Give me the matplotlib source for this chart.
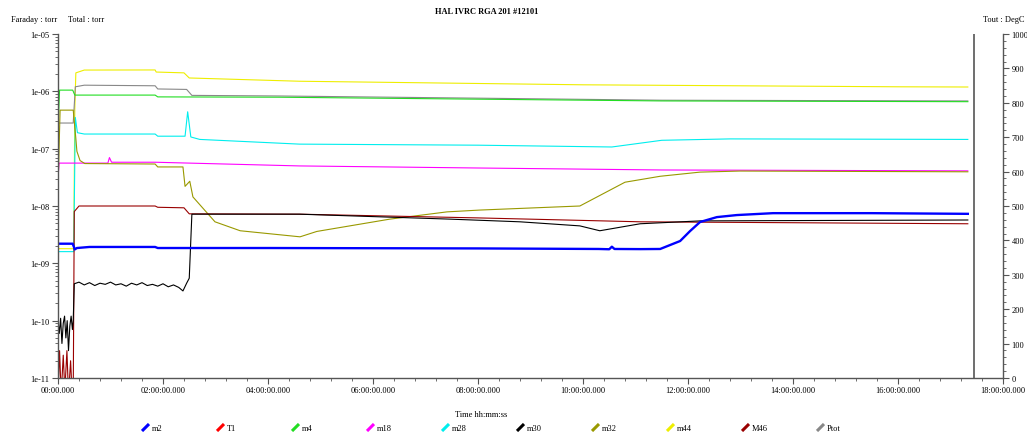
import matplotlib
matplotlib.use("Agg")
import matplotlib.pyplot as plt
from matplotlib.lines import Line2D
from matplotlib.ticker import MultipleLocator, LogLocator, NullFormatter

plt.rcParams['font.family'] = ['Liberation Serif', 'DejaVu Serif']
plt.rcParams['font.size'] = 6

# --- data (time in hours, pressure in torr) ---
m2_t = [0, 0.28, 0.32, 0.36, 0.6, 1.85, 1.9, 4.0, 8.0, 10.3, 10.5, 10.55, 10.6, 11.1, 11.47,
        11.85, 12.04, 12.23, 12.55, 12.93, 13.62, 15.5, 17.33]
m2_v = [2.2e-9, 2.2e-9, 1.75e-9, 1.85e-9, 1.93e-9, 1.93e-9, 1.85e-9, 1.85e-9, 1.82e-9, 1.78e-9,
        1.76e-9, 1.95e-9, 1.78e-9, 1.77e-9, 1.78e-9,
        2.45e-9, 3.66e-9, 5.26e-9, 6.4e-9, 6.95e-9, 7.5e-9, 7.5e-9, 7.3e-9]

t1_t = []   # temperature channel, nothing visible on the trace
t1_v = []

m4_t = [0, 0.03, 0.28, 0.32, 1.85, 1.9, 4.2, 8.0, 11.5, 17.33]
m4_v = [2.2e-7, 1.05e-6, 1.05e-6, 8.6e-7, 8.6e-7, 8.0e-7, 7.9e-7, 7.3e-7, 6.8e-7, 6.6e-7]

m18_t = [0, 0.02, 0.95, 0.98, 1.02, 1.85, 4.6, 8.0, 11.5, 17.33]
m18_v = [3e-8, 5.6e-8, 5.6e-8, 7.0e-8, 5.8e-8, 5.8e-8, 5.0e-8, 4.6e-8, 4.25e-8, 4.1e-8]

m28_t = [0, 0.3, 0.33, 0.37, 0.5, 1.85, 1.9, 2.42, 2.47, 2.53, 2.7, 4.6, 8.0, 10.55, 11.5, 12.8, 17.33]
m28_v = [1.6e-9, 1.6e-9, 3.5e-7, 1.9e-7, 1.8e-7, 1.8e-7, 1.65e-7, 1.65e-7, 4.4e-7, 1.6e-7, 1.45e-7,
         1.2e-7, 1.15e-7, 1.07e-7, 1.4e-7, 1.48e-7, 1.45e-7]

m30_t = [0, 0.025, 0.05, 0.075, 0.1, 0.125, 0.15, 0.175, 0.2, 0.225, 0.25, 0.275, 0.29,
         0.31, 0.4, 0.5, 0.6, 0.7, 0.8, 0.9, 1.0, 1.1, 1.2, 1.3, 1.4, 1.5, 1.6, 1.7, 1.8,
         1.9, 2.0, 2.1, 2.2, 2.3, 2.38, 2.45, 2.5, 2.55, 4.6, 7.47, 8.8, 9.94, 10.32, 11.09,
         12.23, 17.33]
m30_v = [1.0e-10, 6e-11, 1.1e-10, 4e-11, 9e-11, 1.2e-10, 5e-11, 1.0e-10, 3e-11, 8e-11, 1.2e-10,
         7e-11, 1.0e-10,
         4.4e-10, 4.7e-10, 4.2e-10, 4.6e-10, 4.1e-10, 4.5e-10, 4.3e-10, 4.7e-10, 4.2e-10, 4.4e-10,
         4.0e-10, 4.5e-10, 4.2e-10, 4.6e-10, 4.1e-10, 4.3e-10, 4.0e-10, 4.4e-10, 3.9e-10, 4.2e-10,
         3.8e-10, 3.3e-10, 4.5e-10, 5.5e-10, 7.2e-9, 7.2e-9, 5.9e-9, 5.3e-9, 4.5e-9, 3.7e-9, 4.9e-9,
         5.5e-9, 5.7e-9]

m32_t = [0, 0.04, 0.29, 0.34, 0.36, 0.42, 0.51, 1.85, 1.9, 2.38, 2.42, 2.51, 2.57, 2.99, 3.47,
         4.61, 4.93, 6.32, 7.41, 8.04, 9.94, 10.8, 11.47, 12.23, 12.99, 17.33]
m32_v = [2e-8, 4.7e-7, 4.7e-7, 1.5e-7, 9e-8, 6.2e-8, 5.5e-8, 5.4e-8, 4.8e-8, 4.8e-8, 2.2e-8,
         2.7e-8, 1.44e-8, 5.3e-9, 3.7e-9, 2.9e-9, 3.6e-9, 5.9e-9, 7.9e-9, 8.5e-9, 1.0e-8,
         2.6e-8, 3.3e-8, 3.9e-8, 4.07e-8, 3.95e-8]

m44_t = [0, 0.3, 0.32, 0.34, 0.5, 1.85, 1.87, 2.4, 2.5, 4.6, 10.0, 16.0, 17.33]
m44_v = [1.8e-9, 1.8e-9, 5e-7, 2.1e-6, 2.35e-6, 2.36e-6, 2.17e-6, 2.1e-6, 1.71e-6, 1.5e-6,
         1.3e-6, 1.2e-6, 1.19e-6]

m46_t = [0, 0.03, 0.06, 0.1, 0.13, 0.17, 0.2, 0.24, 0.27, 0.29, 0.31, 0.4, 1.85, 1.9, 2.4,
         2.5, 4.6, 8.0, 11.1, 17.33]
m46_v = [5e-12, 3e-11, 5e-12, 2.5e-11, 6e-12, 3e-11, 5e-12, 2e-11, 5e-12, 5e-12, 8e-9, 1.0e-8,
         1.0e-8, 9.5e-9, 9.3e-9, 7.3e-9, 7.2e-9, 6.2e-9, 5.3e-9, 4.9e-9]

ptot_t = [0, 0.29, 0.33, 0.5, 1.85, 1.9, 2.45, 2.55, 4.2, 8.0, 11.5, 17.33]
ptot_v = [2.8e-7, 2.8e-7, 1.2e-6, 1.28e-6, 1.25e-6, 1.1e-6, 1.08e-6, 8.5e-7, 8.3e-7, 7.6e-7,
          7.0e-7, 6.8e-7]

cursor_t = 17.45

names = ['m2', 'T1', 'm4', 'm18', 'm28', 'm30', 'm32', 'm44', 'M46', 'Ptot']
colors = ['#0000ff', '#ff0000', '#22dd22', '#ff00ff', '#00eeee', '#000000', '#999900',
          '#eeee00', '#990000', '#888888']

xtick_pos = [0, 2, 4, 6, 8, 10, 12, 14, 16, 18]
xtick_labels = ['00:00.000', '02:00:00.000', '04:00:00.000', '06:00:00.000', '08:00:00.000',
                '10:00:00.000', '12:00:00.000', '14:00:00.000', '16:00:00.000', '18:00:00.000']
ytick_pos = [1e-11, 1e-10, 1e-09, 1e-08, 1e-07, 1e-06, 1e-05]
ytick_labels = ['1e-11', '1e-10', '1e-09', '1e-08', '1e-07', '1e-06', '1e-05']

W, H = 1027, 439
fig = plt.figure(figsize=(W / 100, H / 100), dpi=100)
ax = fig.add_axes([58 / W, 1 - 379 / H, 945 / W, 344 / H])
ax2 = ax.twinx()

# pressure channels (left axis)
series = {
    'm2': (m2_t, m2_v), 'm4': (m4_t, m4_v), 'm18': (m18_t, m18_v), 'm28': (m28_t, m28_v),
    'm30': (m30_t, m30_v), 'm32': (m32_t, m32_v), 'm44': (m44_t, m44_v),
    'M46': (m46_t, m46_v), 'Ptot': (ptot_t, ptot_v),
}
draw_order = ['m44', 'Ptot', 'm4', 'm28', 'm18', 'm32', 'M46', 'm30', 'm2']
for name in draw_order:
    t, v = series[name]
    c = colors[names.index(name)]
    lw = 1.7 if name == 'm2' else 0.8
    ax.plot(t, v, color=c, lw=lw)

# temperature channel (right axis)
ax2.plot(t1_t, t1_v, color=colors[1], lw=0.8)

ax.axvline(cursor_t, color='#555555', lw=1.2)

ax.set_yscale('log')
ax.set_ylim(1e-11, 1e-05)
ax.set_xlim(0, 18)
ax.set_yticks(ytick_pos)
ax.set_yticklabels(ytick_labels)
ax.yaxis.set_minor_locator(LogLocator(base=10, subs=range(2, 10)))
ax.yaxis.set_minor_formatter(NullFormatter())
ax.set_xticks(xtick_pos)
ax.set_xticklabels(xtick_labels)
ax.xaxis.set_minor_locator(MultipleLocator(0.4))

ax2.set_ylim(0, 1000)
ax2.yaxis.set_major_locator(MultipleLocator(100))
ax2.yaxis.set_minor_locator(MultipleLocator(20))

for a in (ax, ax2):
    a.spines['top'].set_visible(False)
    for s in a.spines.values():
        s.set_color('#555555')
        s.set_linewidth(1.0)
    a.tick_params(which='major', length=4.5, width=0.8, color='#555555', labelsize=6, pad=1.5)
    a.tick_params(which='minor', length=2.5, width=0.6, color='#555555')
ax.spines['right'].set_visible(False)
ax2.spines['left'].set_visible(False)
ax2.spines['bottom'].set_visible(False)

# header texts
fig.text(487 / W, 1 - 12 / H, 'HAL IVRC RGA 201 #12101', ha='center', va='center',
         fontsize=6, fontweight='bold')
fig.text(11 / W, 1 - 20 / H, 'Faraday : torr', ha='left', va='center', fontsize=6)
fig.text(68 / W, 1 - 20 / H, 'Total : torr', ha='left', va='center', fontsize=6)
fig.text(983 / W, 1 - 20 / H, 'Tout : DegC', ha='left', va='center', fontsize=6)
fig.text(455 / W, 1 - 415 / H, 'Time hh:mm:ss', ha='left', va='center', fontsize=6)

# legend row with slanted swatches
for i, (name, c) in enumerate(zip(names, colors)):
    x0 = 142 + 75 * i
    fig.add_artist(Line2D([x0 / W, (x0 + 7) / W], [1 - 432 / H, 1 - 425 / H],
                          color=c, lw=2.2, solid_capstyle='butt'))
    fig.text((x0 + 10) / W, 1 - 429 / H, name, ha='left', va='center', fontsize=6)

fig.savefig('out.png', dpi=100)
